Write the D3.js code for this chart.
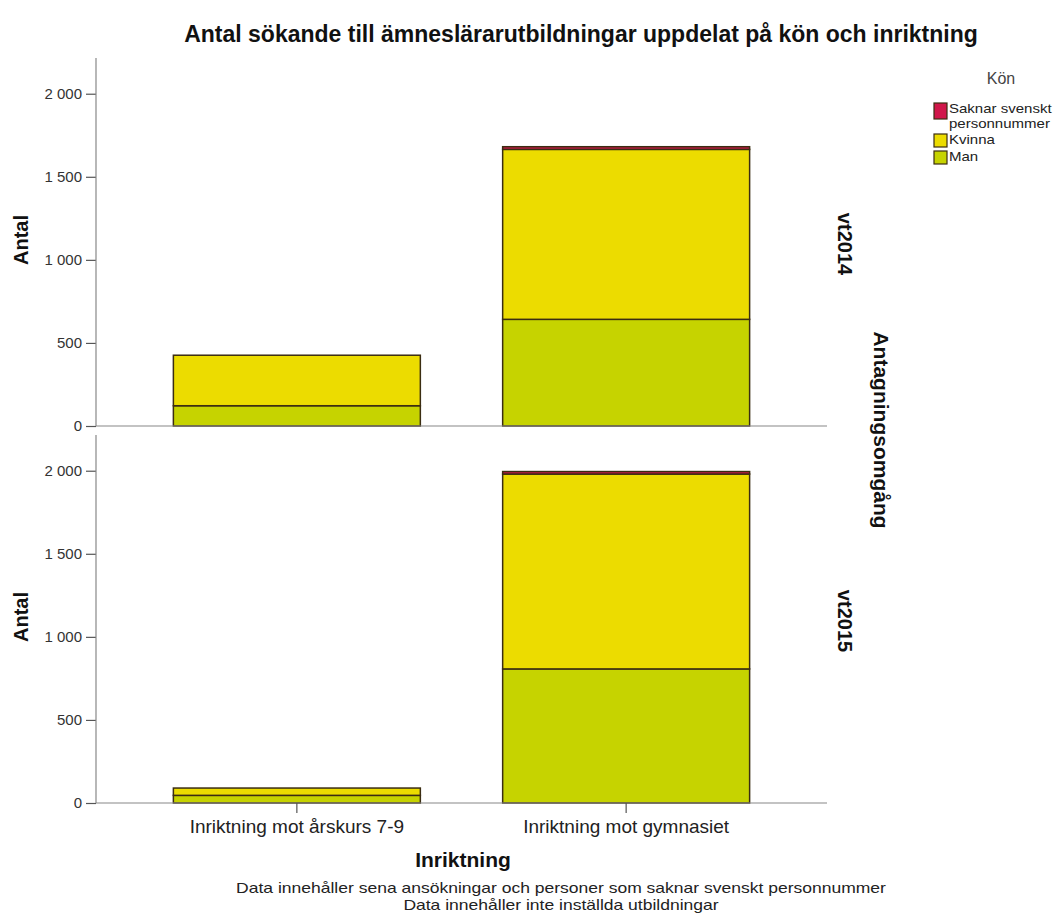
<!DOCTYPE html>
<html><head><meta charset="utf-8">
<script src="https://cdn.jsdelivr.net/npm/d3@7"></script>
<style>body{margin:0;background:#fff}svg{display:block;font-family:"Liberation Sans",Arial,sans-serif}</style>
</head><body><svg id="c" width="1062" height="923"></svg>
<script>
const categories = ["Inriktning mot årskurs 7-9", "Inriktning mot gymnasiet"];
const rounds = ["vt2014", "vt2015"];
const genders = ["Man", "Kvinna", "Saknar svenskt personnummer"];
const man2014 = [122, 642];
const kvinna2014 = [304, 1023];
const saknar2014 = [0, 16];
const man2015 = [46, 807];
const kvinna2015 = [44, 1173];
const saknar2015 = [0, 15];
const yTicks = [0, 500, 1000, 1500, 2000];
const notes = ["Data innehåller sena ansökningar och personer som saknar svenskt personnummer", "Data innehåller inte inställda utbildningar"];
const colors = {"Man": "#c6d300", "Kvinna": "#ecdc00", "Saknar svenskt personnummer": "#d0174a"};

const panelValues = {
  vt2014: {"Man": man2014, "Kvinna": kvinna2014, "Saknar svenskt personnummer": saknar2014},
  vt2015: {"Man": man2015, "Kvinna": kvinna2015, "Saknar svenskt personnummer": saknar2015}
};

const svg = d3.select("#c");
const left = 96, right = 827;
const panels = [{key: "vt2014", top: 58, bottom: 426}, {key: "vt2015", top: 435, bottom: 803}];
const fmt = d3.formatLocale({decimal: ",", thousands: "\u00a0", grouping: [3], currency: ["", ""]}).format(",");

const x = d3.scaleBand().domain(categories).range([left, right]).paddingInner(0.25).paddingOuter(0.235);
const stroke = "#3b2d12";
const FF = "Liberation Sans, Arial, sans-serif";

function stretch(sel, factor) {
  sel.each(function() {
    const L = this.getComputedTextLength();
    d3.select(this).attr("textLength", L * factor).attr("lengthAdjust", "spacingAndGlyphs");
  });
}

panels.forEach((p, pi) => {
  const y = d3.scaleLinear().domain([0, 2215]).range([p.bottom, p.top]);
  const g = svg.append("g");
  const ya = g.append("g").attr("transform", `translate(${left},0)`)
    .call(d3.axisLeft(y).tickValues(yTicks).tickFormat(fmt).tickSize(10).tickPadding(4));
  ya.select(".domain").remove();
  ya.selectAll(".tick line").attr("stroke", "#555").attr("stroke-width", 1.2);
  ya.selectAll(".tick text").attr("fill", "#333").style("font-size", "15px").style("font-family", FF);
  g.append("line").attr("x1", left).attr("x2", left).attr("y1", p.top).attr("y2", p.bottom).attr("stroke", "#888").attr("stroke-width", 1.2);

  const rows = categories.map((c, i) => {
    const r = {cat: c};
    genders.forEach(k => r[k] = panelValues[p.key][k][i]);
    return r;
  });
  const series = d3.stack().keys(genders)(rows);
  series.forEach(s => {
    g.append("g").selectAll("rect").data(s).join("rect")
      .attr("x", d => x(d.data.cat))
      .attr("width", x.bandwidth())
      .attr("y", d => y(d[1]))
      .attr("height", d => y(d[0]) - y(d[1]))
      .attr("fill", colors[s.key])
      .attr("stroke", stroke).attr("stroke-width", 1.5)
      .attr("display", d => (d[1] - d[0]) > 0 ? null : "none");
  });

  g.append("line").attr("x1", left).attr("x2", right).attr("y1", y(0)).attr("y2", y(0)).attr("stroke", "#888").attr("stroke-width", 1.2);

  const cy = (p.top + p.bottom) / 2;
  g.append("text").attr("transform", `translate(28,${cy - 2}) rotate(-90)`).attr("text-anchor", "middle")
    .style("font-size", "20px").style("font-weight", "bold").attr("fill", "#111").text("Antal");
  g.append("text").attr("transform", `translate(838,${cy + 2}) rotate(90)`).attr("text-anchor", "middle")
    .style("font-size", "20px").style("font-weight", "bold").attr("fill", "#111").text(rounds[pi]);

  if (pi === 1) {
    const xa = g.append("g").attr("transform", `translate(0,${p.bottom})`)
      .call(d3.axisBottom(x).tickSize(10).tickPadding(7));
    xa.select(".domain").remove();
    xa.selectAll(".tick line").attr("stroke", "#555").attr("stroke-width", 1.2);
    xa.selectAll(".tick text").attr("fill", "#222").style("font-size", "19px").style("font-family", FF);
  }
});

svg.append("text").attr("transform", "translate(874,430) rotate(90)").attr("text-anchor", "middle")
  .style("font-size", "21px").style("font-weight", "bold").attr("fill", "#111").text("Antagningsomgång");

svg.append("text").attr("x", 581).attr("y", 42).attr("text-anchor", "middle")
  .style("font-size", "23px").style("font-weight", "bold").attr("fill", "#111")
  .text("Antal sökande till ämneslärarutbildningar uppdelat på kön och inriktning");

svg.append("text").attr("x", 463).attr("y", 867).attr("text-anchor", "middle")
  .style("font-size", "21px").style("font-weight", "bold").attr("fill", "#111").text("Inriktning");

svg.selectAll("text.note").data(notes).join("text").attr("class", "note")
  .attr("x", 561).attr("y", (d, i) => 893 + i * 16.5).attr("text-anchor", "middle")
  .style("font-size", "14.5px").attr("fill", "#222").text(d => d)
  .call(stretch, 17.5 / 14.5);

const lg = svg.append("g");
lg.append("text").attr("x", 1001).attr("y", 84).attr("text-anchor", "middle").style("font-size", "16px").attr("fill", "#444").text("Kön");
const legRows = [
  {k: "Saknar svenskt personnummer", y: 103, h: 16, lines: ["Saknar svenskt", "personnummer"]},
  {k: "Kvinna", y: 134, h: 13, lines: ["Kvinna"]},
  {k: "Man", y: 151, h: 13, lines: ["Man"]}
];
legRows.forEach(r => {
  lg.append("rect").attr("x", 934).attr("y", r.y).attr("width", 13).attr("height", r.h)
    .attr("fill", colors[r.k]).attr("stroke", stroke).attr("stroke-width", 1.2);
  r.lines.forEach((t, i) => lg.append("text").attr("x", 949).attr("y", r.y + 10 + i * 15)
    .style("font-size", "13px").attr("fill", "#222").text(t).call(stretch, 15 / 13));
});
</script></body></html>
